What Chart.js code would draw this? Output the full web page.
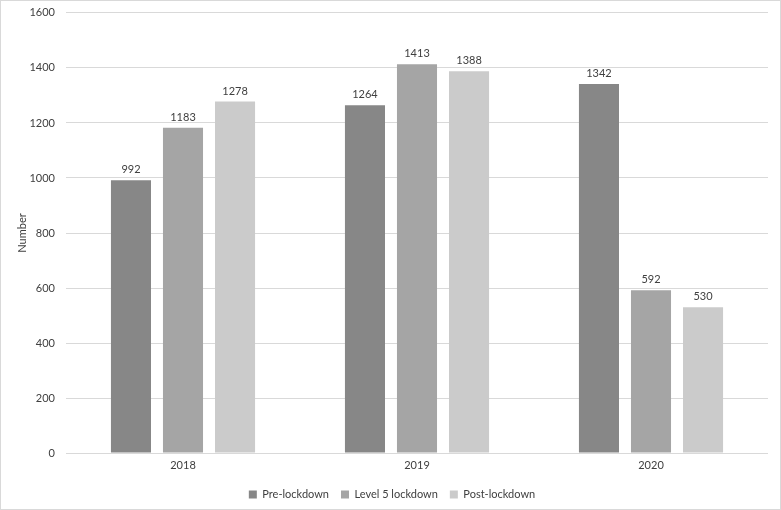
<!DOCTYPE html>
<html lang="en">
<head>
<meta charset="UTF-8">
<title>Number by period</title>
<script src="https://cdn.jsdelivr.net/npm/chart.js"></script>
<style>
  html, body { margin: 0; padding: 0; background: #fff; }
  #wrap { width: 781px; height: 510px; position: relative; }
</style>
</head>
<body>
<div id="wrap"><canvas id="chart"></canvas></div>
<script>
// data
const years = ['2018', '2019', '2020'];
const preLockdown = [992, 1264, 1342];
const level5Lockdown = [1183, 1413, 592];
const postLockdown = [1278, 1388, 530];
const seriesNames = ['Pre-lockdown', 'Level 5 lockdown', 'Post-lockdown'];
const yTicks = [0, 200, 400, 600, 800, 1000, 1200, 1400, 1600];

const fontFamily = "Lato, 'Open Sans', sans-serif";
const textColor = '#404040';

// value labels above each bar
const barLabels = {
    id: 'barLabels',
    afterDatasetsDraw(chart) {
        const ctx = chart.ctx;
        ctx.save();
        ctx.font = '11px ' + fontFamily;
        ctx.fillStyle = textColor;
        ctx.textAlign = 'center';
        ctx.textBaseline = 'bottom';
        chart.data.datasets.forEach((ds, i) => {
            chart.getDatasetMeta(i).data.forEach((bar, j) => {
                ctx.fillText(ds.data[j], bar.x, bar.y - 5);
            });
        });
        ctx.restore();
    }
};

// thin frame round the whole picture
const frame = {
    id: 'frame',
    afterDraw(chart) {
        const ctx = chart.ctx;
        ctx.save();
        ctx.strokeStyle = '#d9d9d9';
        ctx.lineWidth = 1;
        ctx.strokeRect(0.5, 0.5, chart.width - 1, chart.height - 1);
        ctx.restore();
    }
};

const ctx = document.getElementById('chart').getContext('2d');
new Chart(ctx, {
    type: 'bar',
    data: {
        labels: years,
        datasets: [
            { label: seriesNames[0], data: preLockdown, backgroundColor: '#878787' },
            { label: seriesNames[1], data: level5Lockdown, backgroundColor: '#a5a5a5' },
            { label: seriesNames[2], data: postLockdown, backgroundColor: '#cbcbcb' }
        ]
    },
    options: {
        responsive: true,
        maintainAspectRatio: false,
        animation: false,
        devicePixelRatio: 1,
        layout: { padding: { left: 16, right: 13, top: 0, bottom: 0 } },
        datasets: {
            bar: { categoryPercentage: 0.667, barPercentage: 0.77 }
        },
        scales: {
            x: {
                grid: { display: false, drawTicks: false },
                border: { display: false },
                ticks: {
                    color: textColor,
                    font: { family: fontFamily, size: 11, lineHeight: 0.9 },
                    padding: 7
                }
            },
            y: {
                min: 0,
                max: 1600,
                afterBuildTicks(axis) { axis.ticks = yTicks.map(v => ({ value: v })); },
                afterFit(axis) { axis.width = 50; },
                grid: { color: '#d9d9d9', drawTicks: false },
                border: { display: false },
                ticks: {
                    color: textColor,
                    font: { family: fontFamily, size: 11, lineHeight: 0.35 },
                    padding: 11,
                    callback: v => String(v)
                },
                title: {
                    display: true,
                    text: 'Number',
                    color: textColor,
                    font: { family: fontFamily, size: 11 },
                    padding: { top: 0, bottom: 3 }
                }
            }
        },
        plugins: {
            legend: {
                position: 'bottom',
                labels: {
                    boxWidth: 8,
                    boxHeight: 8,
                    color: textColor,
                    font: { family: fontFamily, size: 11 },
                    padding: 12
                }
            },
            tooltip: { enabled: false }
        }
    },
    plugins: [barLabels, frame]
});
</script>
</body>
</html>
